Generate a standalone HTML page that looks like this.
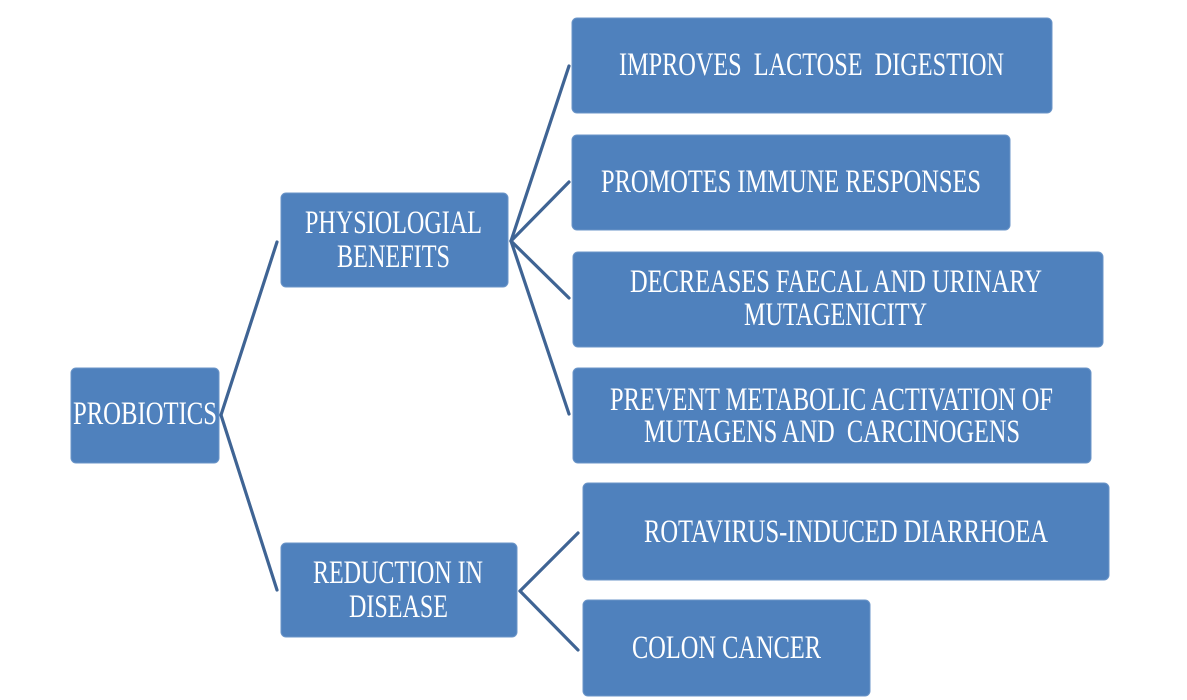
<!DOCTYPE html>
<html>
<head>
<meta charset="utf-8">
<style>
  html, body { margin: 0; padding: 0; background: #ffffff; }
  body { width: 1187px; height: 700px; overflow: hidden; }
  svg { display: block; }
  text { font-family: "Liberation Serif", "Times New Roman", serif; font-size: 33px; fill: #ffffff; }
</style>
</head>
<body>
<svg width="1187" height="700" viewBox="0 0 1187 700" xmlns="http://www.w3.org/2000/svg">
  <rect x="0" y="0" width="1187" height="700" fill="#ffffff"/>

  <!-- connectors -->
  <g stroke="#3f6494" stroke-width="3.2" fill="none" stroke-linecap="round">
    <line x1="221" y1="415" x2="277" y2="242"/>
    <line x1="221" y1="415" x2="277" y2="590"/>

    <line x1="511" y1="241" x2="569" y2="66"/>
    <line x1="511" y1="241" x2="569" y2="182"/>
    <line x1="511" y1="241" x2="569" y2="298"/>
    <line x1="511" y1="241" x2="569" y2="414"/>

    <line x1="520" y1="591" x2="578" y2="533"/>
    <line x1="520" y1="591" x2="578" y2="650"/>
  </g>

  <!-- boxes -->
  <g fill="#4f81bd" stroke="#6b95c8" stroke-width="1">
    <rect x="71" y="368" width="148" height="95" rx="5"/>
    <rect x="281" y="193" width="227" height="94" rx="5"/>
    <rect x="281" y="543" width="236" height="94" rx="5"/>
    <rect x="572" y="18" width="480" height="95" rx="5"/>
    <rect x="572" y="135" width="438" height="95" rx="5"/>
    <rect x="573" y="252" width="530" height="95" rx="5"/>
    <rect x="573" y="368" width="518" height="95" rx="5"/>
    <rect x="583" y="483" width="526" height="97" rx="5"/>
    <rect x="583" y="600" width="287" height="96" rx="5"/>
  </g>

  <!-- labels -->
  <text x="73" y="424" textLength="144" lengthAdjust="spacingAndGlyphs">PROBIOTICS</text>

  <text x="305" y="233" textLength="177" lengthAdjust="spacingAndGlyphs">PHYSIOLOGIAL</text>
  <text x="337" y="267" textLength="113" lengthAdjust="spacingAndGlyphs">BENEFITS</text>

  <text x="313" y="583" textLength="170" lengthAdjust="spacingAndGlyphs">REDUCTION IN</text>
  <text x="349" y="617" textLength="99" lengthAdjust="spacingAndGlyphs">DISEASE</text>

  <text x="619" y="75" textLength="385" lengthAdjust="spacingAndGlyphs" xml:space="preserve">IMPROVES  LACTOSE  DIGESTION</text>
  <text x="601" y="192" textLength="380" lengthAdjust="spacingAndGlyphs">PROMOTES IMMUNE RESPONSES</text>

  <text x="630" y="292" textLength="412" lengthAdjust="spacingAndGlyphs">DECREASES FAECAL AND URINARY</text>
  <text x="744" y="325" textLength="183" lengthAdjust="spacingAndGlyphs">MUTAGENICITY</text>

  <text x="610" y="410" textLength="443" lengthAdjust="spacingAndGlyphs">PREVENT METABOLIC ACTIVATION OF</text>
  <text x="644" y="442" textLength="376" lengthAdjust="spacingAndGlyphs" xml:space="preserve">MUTAGENS AND  CARCINOGENS</text>

  <text x="644" y="542" textLength="404" lengthAdjust="spacingAndGlyphs">ROTAVIRUS-INDUCED DIARRHOEA</text>
  <text x="632" y="658" textLength="189" lengthAdjust="spacingAndGlyphs">COLON CANCER</text>
</svg>
</body>
</html>
